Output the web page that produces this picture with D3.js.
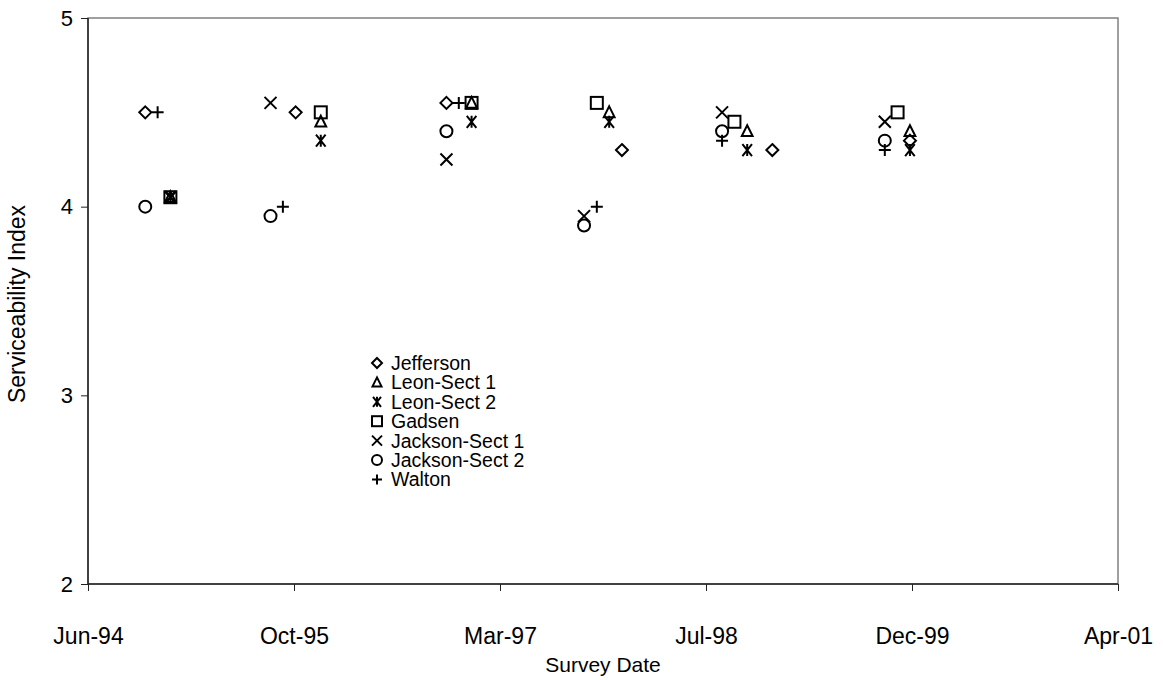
<!DOCTYPE html>
<html>
<head>
<meta charset="utf-8">
<script src="https://cdn.jsdelivr.net/npm/d3@7"></script>
<style>
  html, body { margin: 0; padding: 0; background: #fff; }
  svg { display: block; font-family: Arial, "Liberation Sans", sans-serif; }
</style>
</head>
<body>
<svg id="chart" width="1163" height="680"></svg>
<script>
// ---- data ----
const seriesNames = ["Jefferson", "Leon-Sect 1", "Leon-Sect 2", "Gadsen", "Jackson-Sect 1", "Jackson-Sect 2", "Walton"];
const seriesSymbols = ["diamond", "triangle", "asterisk", "square", "cross", "circle", "plus"];

const jeffersonDates = ["1994-11-01", "1995-11-01", "1996-11-01", "1998-01-01", "1999-01-01", "1999-12-01"];
const jeffersonValues = [4.5, 4.5, 4.55, 4.3, 4.3, 4.35];
const leon1Dates = ["1995-01-01", "1996-01-01", "1997-01-01", "1997-12-01", "1998-11-01", "1999-12-01"];
const leon1Values = [4.05, 4.45, 4.55, 4.5, 4.4, 4.4];
const leon2Dates = ["1995-01-01", "1996-01-01", "1997-01-01", "1997-12-01", "1998-11-01", "1999-12-01"];
const leon2Values = [4.05, 4.35, 4.45, 4.45, 4.3, 4.3];
const gadsenDates = ["1995-01-01", "1996-01-01", "1997-01-01", "1997-11-01", "1998-10-01", "1999-11-01"];
const gadsenValues = [4.05, 4.5, 4.55, 4.55, 4.45, 4.5];
const jackson1Dates = ["1995-01-01", "1995-09-01", "1996-11-01", "1997-10-01", "1998-09-01", "1999-10-01"];
const jackson1Values = [4.05, 4.55, 4.25, 3.95, 4.5, 4.45];
const jackson2Dates = ["1994-11-01", "1995-09-01", "1996-11-01", "1997-10-01", "1998-09-01", "1999-10-01"];
const jackson2Values = [4.0, 3.95, 4.4, 3.9, 4.4, 4.35];
const waltonDates = ["1994-12-01", "1995-10-01", "1996-12-01", "1997-11-01", "1998-09-01", "1999-10-01"];
const waltonValues = [4.5, 4.0, 4.55, 4.0, 4.35, 4.3];

const seriesDates = [jeffersonDates, leon1Dates, leon2Dates, gadsenDates, jackson1Dates, jackson2Dates, waltonDates];
const seriesValues = [jeffersonValues, leon1Values, leon2Values, gadsenValues, jackson1Values, jackson2Values, waltonValues];

// x axis: Excel-style date axis, 500-day steps from 15 Jun 1994
const xTickDates = ["1994-06-15", "1995-10-28", "1997-03-11", "1998-07-24", "1999-12-06", "2001-04-19"];
const xTickLabels = ["Jun-94", "Oct-95", "Mar-97", "Jul-98", "Dec-99", "Apr-01"];
const yTicks = [2, 3, 4, 5];

// ---- layout ----
const svg = d3.select("#chart");
const plotL = 88, plotR = 1118, plotT = 18, plotB = 584;
const parse = s => new Date(s + "T00:00:00Z");

const x = d3.scaleUtc()
  .domain([parse(xTickDates[0]), parse(xTickDates[xTickDates.length - 1])])
  .range([plotL, plotR]);
const y = d3.scaleLinear().domain([2, 5]).range([plotB, plotT]);

// plot border
svg.append("rect")
  .attr("x", plotL).attr("y", plotT)
  .attr("width", plotR - plotL).attr("height", plotB - plotT)
  .attr("fill", "none").attr("stroke", "#808080").attr("stroke-width", 1.5);

// axes
const xAxis = d3.axisBottom(x)
  .tickValues(xTickDates.map(parse))
  .tickFormat((d, i) => xTickLabels[i])
  .tickSize(7).tickPadding(37);
const gx = svg.append("g").attr("transform", `translate(0,${plotB})`).call(xAxis);
gx.select(".domain").attr("stroke", "#222").attr("stroke-width", 1.5).attr("d", `M${plotL},0H${plotR}`);
gx.selectAll(".tick line").attr("stroke", "#222");
gx.selectAll(".tick text").attr("font-size", 23).attr("fill", "#000")
  .attr("font-family", "Arial, 'Liberation Sans', sans-serif");

const yAxis = d3.axisLeft(y).tickValues(yTicks).tickFormat(d3.format("d")).tickSize(7).tickPadding(8);
const gy = svg.append("g").attr("transform", `translate(${plotL},0)`).call(yAxis);
gy.select(".domain").attr("stroke", "#222").attr("stroke-width", 1.5).attr("d", `M0,${plotT}V${plotB}`);
gy.selectAll(".tick line").attr("stroke", "#222");
gy.selectAll(".tick text").attr("font-size", 22).attr("fill", "#000")
  .attr("font-family", "Arial, 'Liberation Sans', sans-serif");

// axis titles
svg.append("text")
  .attr("x", 603).attr("y", 672)
  .attr("text-anchor", "middle").attr("font-size", 21).text("Survey Date");
svg.append("text")
  .attr("transform", `translate(25,304) rotate(-90)`)
  .attr("text-anchor", "middle").attr("font-size", 23).text("Serviceability Index");

// ---- markers ----
function drawSymbol(g, type, cx, cy, s) {
  const h = s / 2;
  let el;
  switch (type) {
    case "diamond":
      el = g.append("path").attr("d", `M${cx},${cy - h}L${cx + h},${cy}L${cx},${cy + h}L${cx - h},${cy}Z`); break;
    case "triangle":
      el = g.append("path").attr("d", `M${cx},${cy - h}L${cx + h * 0.9},${cy + h * 0.8}L${cx - h * 0.9},${cy + h * 0.8}Z`); break;
    case "square":
      el = g.append("rect").attr("x", cx - h).attr("y", cy - h).attr("width", s).attr("height", s); break;
    case "circle":
      el = g.append("circle").attr("cx", cx).attr("cy", cy).attr("r", h); break;
    case "cross":
      el = g.append("path").attr("d", `M${cx - h},${cy - h}L${cx + h},${cy + h}M${cx + h},${cy - h}L${cx - h},${cy + h}`); break;
    case "plus":
      el = g.append("path").attr("d", `M${cx - h},${cy}L${cx + h},${cy}M${cx},${cy - h}L${cx},${cy + h}`); break;
    case "asterisk":
      el = g.append("path").attr("d",
        `M${cx - h * 0.8},${cy - h}L${cx + h * 0.8},${cy + h}M${cx + h * 0.8},${cy - h}L${cx - h * 0.8},${cy + h}M${cx},${cy - h}L${cx},${cy + h}`); break;
  }
  el.attr("fill", "none").attr("stroke", "#000").attr("stroke-width", 2);
}

const gm = svg.append("g");
seriesNames.forEach((name, si) => {
  seriesDates[si].forEach((d, i) => {
    drawSymbol(gm, seriesSymbols[si], x(parse(d)), y(seriesValues[si][i]), 12);
  });
});

// ---- legend ----
const lg = svg.append("g");
const legendX = 377, legendY0 = 363, legendStep = 19.4;
seriesNames.forEach((name, i) => {
  const cy = legendY0 + i * legendStep;
  drawSymbol(lg, seriesSymbols[i], legendX, cy, 10);
  lg.append("text").attr("x", legendX + 14).attr("y", cy + 7)
    .attr("font-size", 19.5).text(name);
});
</script>
</body>
</html>
